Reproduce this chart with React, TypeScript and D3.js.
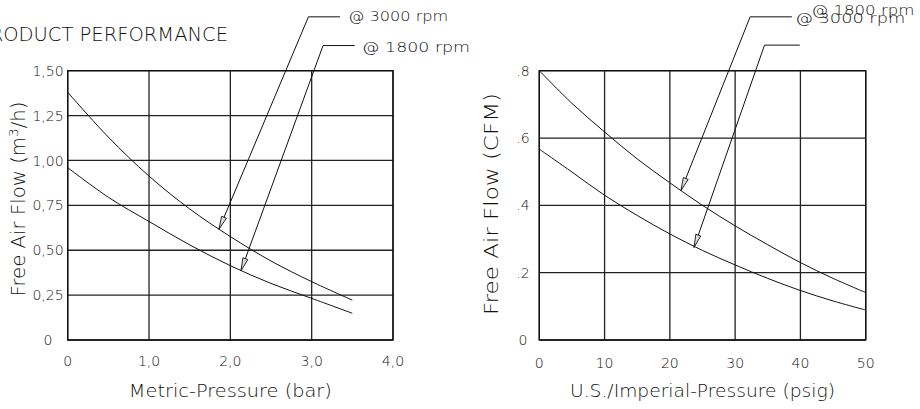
import React from 'react';
import * as d3 from 'd3';

// metric chart
const barTicksX = [0, 1, 2, 3, 4];
const barTickLabelsX = ['0', '1,0', '2,0', '3,0', '4,0'];
const m3hTicksY = [0, 0.25, 0.5, 0.75, 1.0, 1.25, 1.5];
const m3hTickLabelsY = ['0', '0,25', '0,50', '0,75', '1,00', '1,25', '1,50'];
const pressureBar = [0, 0.5, 1.0, 1.5, 2.0, 2.5, 3.0, 3.5];
const flowM3h3000 = [1.38, 1.13, 0.913, 0.73, 0.576, 0.44, 0.325, 0.222];
const flowM3h1800 = [0.96, 0.795, 0.66, 0.53, 0.414, 0.315, 0.232, 0.149];

// imperial chart
const psigTicksX = [0, 10, 20, 30, 40, 50];
const psigTickLabelsX = ['0', '10', '20', '30', '40', '50'];
const cfmTicksY = [0, 0.2, 0.4, 0.6, 0.8];
const cfmTickLabelsY = ['0', '.2', '.4', '.6', '.8'];
const pressurePsig = [0, 5, 10, 15, 20, 25, 30, 35, 40, 45, 50];
const flowCfm3000 = [0.8, 0.703, 0.618, 0.538, 0.467, 0.4, 0.339, 0.283, 0.23, 0.183, 0.141];
const flowCfm1800 = [0.567, 0.499, 0.43, 0.37, 0.315, 0.266, 0.223, 0.183, 0.147, 0.116, 0.089];

// leader annotations: [tip, elbow, end of shelf] in data units
const metricLeaders = [
  { label: '@ 3000 rpm', tip: [1.86, 0.617], elbow: [2.96, 1.8], end: [3.35, 1.8], text: [3.45, 1.775], len: 100 },
  { label: '@ 1800 rpm', tip: [2.13, 0.385], elbow: [3.14, 1.64], end: [3.53, 1.64], text: [3.62, 1.602], len: 108 },
];
const imperialLeaders = [
  { label: '@ 3000 rpm', tip: [21.7, 0.444], elbow: [32.3, 0.96], end: [38.7, 0.96], text: [39.2, 0.942], len: 110 },
  { label: '@ 1800 rpm', tip: [23.7, 0.275], elbow: [34.5, 0.876], end: [39.9, 0.876], text: [41.7, 0.965], len: 103 },
];

const FONT = '"DejaVu Sans", sans-serif';
const INK = '#111';

const top = 70.7;
const bottom = 340;

function arrowHead(tx: number, ty: number, fx: number, fy: number) {
  const dx = fx - tx;
  const dy = fy - ty;
  const d = Math.hypot(dx, dy);
  const ux = dx / d;
  const uy = dy / d;
  const L = 13;
  const W = 2.6;
  const bx = tx + ux * L;
  const by = ty + uy * L;
  return `M${tx},${ty}L${bx - uy * W},${by + ux * W}L${bx + uy * W},${by - ux * W}Z`;
}

interface PanelProps {
  left: number;
  right: number;
  xDomain: [number, number];
  yDomain: [number, number];
  xTicks: number[];
  xLabels: string[];
  yTicks: number[];
  yLabels: string[];
  xs: number[];
  curves: number[][];
  leaders: typeof metricLeaders;
  yLabelX: number;
  xTickY: number;
  xTitle: string;
  xTitleLen: number;
  yTitle: React.ReactNode;
  yTitleX: number;
  yTitleCy: number;
  yTitleLen: number;
}

const Panel: React.FC<PanelProps> = (p) => {
  const x = d3.scaleLinear().domain(p.xDomain).range([p.left, p.right]);
  const y = d3.scaleLinear().domain(p.yDomain).range([bottom, top]);
  const line = d3
    .line<number>()
    .x((_, i) => x(p.xs[i]))
    .y((d) => y(d))
    .curve(d3.curveCatmullRom);

  return (
    <g>
      {p.xTicks.map((t) => (
        <line key={'vx' + t} x1={x(t)} x2={x(t)} y1={top} y2={bottom} stroke="#222" strokeWidth={1.3} />
      ))}
      {p.yTicks.map((t) => (
        <line key={'hy' + t} x1={p.left} x2={p.right} y1={y(t)} y2={y(t)} stroke="#222" strokeWidth={1.3} />
      ))}
      {p.curves.map((c, i) => (
        <path key={'c' + i} d={line(c) ?? ''} fill="none" stroke={INK} strokeWidth={1} />
      ))}
      {p.leaders.map((l, i) => {
        const tx = x(l.tip[0]);
        const ty = y(l.tip[1]);
        const ex = x(l.elbow[0]);
        const ey = y(l.elbow[1]);
        return (
          <g key={'l' + i}>
            <path d={`M${tx},${ty}L${ex},${ey}L${x(l.end[0])},${y(l.end[1])}`} fill="none" stroke={INK} strokeWidth={1} />
            <path d={arrowHead(tx, ty, ex, ey)} fill="#ddd" stroke={INK} strokeWidth={0.9} />
            <text
              x={x(l.text[0])}
              y={y(l.text[1])}
              fontSize={14}
              fontFamily={FONT}
              fontWeight={200}
              fill={INK}
              textLength={l.len}
              lengthAdjust="spacingAndGlyphs"
            >
              {l.label}
            </text>
          </g>
        );
      })}
      {p.yTicks.map((t, i) => (
        <text
          key={'yl' + t}
          x={p.yLabelX}
          y={y(t)}
          dy="0.36em"
          textAnchor="middle"
          fontSize={14}
          fontFamily={FONT}
          fontWeight={200}
          fill={INK}
        >
          {p.yLabels[i]}
        </text>
      ))}
      {p.xTicks.map((t, i) => (
        <text
          key={'xl' + t}
          x={x(t)}
          y={p.xTickY}
          textAnchor="middle"
          fontSize={14}
          fontFamily={FONT}
          fontWeight={200}
          fill={INK}
        >
          {p.xLabels[i]}
        </text>
      ))}
      <text
        x={(p.left + p.right) / 2}
        y={397}
        textAnchor="middle"
        fontSize={17}
        fontFamily={FONT}
        fontWeight={200}
        fill={INK}
        textLength={p.xTitleLen}
        lengthAdjust="spacingAndGlyphs"
      >
        {p.xTitle}
      </text>
      <text
        transform={`translate(${p.yTitleX},${p.yTitleCy}) rotate(-90)`}
        textAnchor="middle"
        fontSize={19}
        fontFamily={FONT}
        fontWeight={200}
        fill={INK}
        textLength={p.yTitleLen}
        lengthAdjust="spacingAndGlyphs"
      >
        {p.yTitle}
      </text>
      <rect x={p.left} y={top} width={p.right - p.left} height={bottom - top} fill="none" stroke={INK} strokeWidth={1.4} />
    </g>
  );
};

export default function App() {
  return (
    <svg
      width={920}
      height={409}
      style={{ position: 'absolute', left: 0, top: 0, background: '#fff' }}
    >
      <rect width={920} height={409} fill="#fff" />
      <text x={228} y={41} textAnchor="end" fontSize={19.5} fontFamily={FONT} fontWeight={200} fill={INK}>
        PRODUCT PERFORMANCE
      </text>
      <Panel
        left={67.7}
        right={393}
        xDomain={[0, 4]}
        yDomain={[0, 1.5]}
        xTicks={barTicksX}
        xLabels={barTickLabelsX}
        yTicks={m3hTicksY}
        yLabels={m3hTickLabelsY}
        xs={pressureBar}
        curves={[flowM3h3000, flowM3h1800]}
        leaders={metricLeaders}
        yLabelX={48}
        xTickY={366}
        xTitle="Metric-Pressure (bar)"
        xTitleLen={203}
        yTitle={
          <>
            Free Air Flow (m<tspan dy={-7} fontSize={13}>3</tspan>
            <tspan dy={7}>/h)</tspan>
          </>
        }
        yTitleX={25}
        yTitleCy={199}
        yTitleLen={195}
      />
      <Panel
        left={539.3}
        right={865.7}
        xDomain={[0, 50]}
        yDomain={[0, 0.8]}
        xTicks={psigTicksX}
        xLabels={psigTickLabelsX}
        yTicks={cfmTicksY}
        yLabels={cfmTickLabelsY}
        xs={pressurePsig}
        curves={[flowCfm3000, flowCfm1800]}
        leaders={imperialLeaders}
        yLabelX={523}
        xTickY={368}
        xTitle="U.S./Imperial-Pressure (psig)"
        xTitleLen={265}
        yTitle="Free Air Flow (CFM)"
        yTitleX={498}
        yTitleCy={204}
        yTitleLen={222}
      />
    </svg>
  );
}
